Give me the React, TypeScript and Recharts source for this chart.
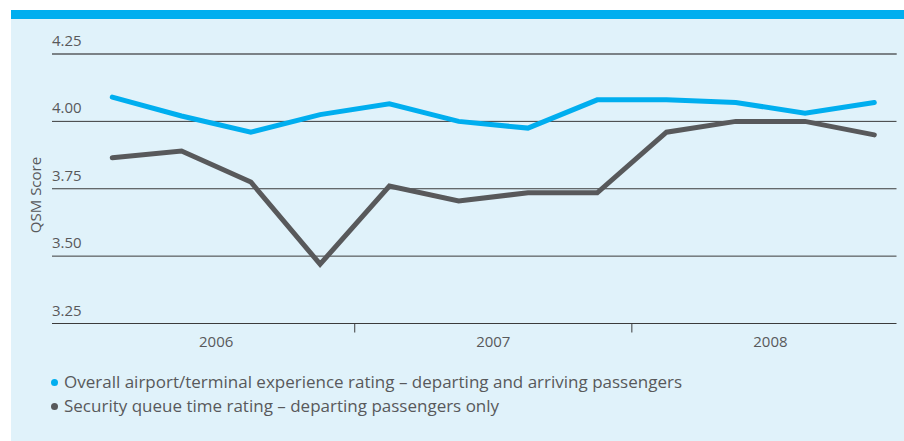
import { LineChart, Line, XAxis, YAxis, CartesianGrid, ReferenceLine } from 'recharts'

const quarters = [
  '2006 Q1', '2006 Q2', '2006 Q3', '2006 Q4',
  '2007 Q1', '2007 Q2', '2007 Q3', '2007 Q4',
  '2008 Q1', '2008 Q2', '2008 Q3', '2008 Q4',
]
const overall = [4.09, 4.02, 3.96, 4.025, 4.065, 4.0, 3.975, 4.08, 4.08, 4.07, 4.03, 4.07]
const security = [3.865, 3.89, 3.775, 3.47, 3.76, 3.705, 3.735, 3.735, 3.96, 4.0, 4.0, 3.95]
const yTicks = [3.25, 3.5, 3.75, 4.0, 4.25]
const years = ['2006', '2007', '2008']

const series = [
  { key: 'overall', name: 'Overall airport/terminal experience rating – departing and arriving passengers', color: '#00aeef' },
  { key: 'security', name: 'Security queue time rating – departing passengers only', color: '#58595b' },
]

const data = quarters.map((q, i) => ({ i, q, overall: overall[i], security: security[i] }))

// label in the middle of each year, small tick between years
const yearMids = years.map((_, k) => k * 4 + 1.5)
const yearEdges = years.slice(1).map((_, k) => k * 4 + 3.5)
const xTicks = [...yearMids, ...yearEdges].sort((a, b) => a - b)

const FONT = '"Open Sans", sans-serif'
const TEXT = '#58595b'
const GRID = '#3b3b3b'

function YTick({ x, y, payload }: any) {
  return (
    <text x={x} y={y - 8} fill={TEXT} fontSize={15} fontFamily={FONT} textAnchor="start">
      {Number(payload.value).toFixed(2)}
    </text>
  )
}

function XTick({ x, y, payload }: any) {
  const k = yearMids.indexOf(payload.value)
  if (k >= 0) {
    return (
      <text x={x} y={y + 23} fill={TEXT} fontSize={15} fontFamily={FONT} textAnchor="middle">
        {years[k]}
      </text>
    )
  }
  return <line x1={x} x2={x} y1={y} y2={y + 9} stroke={GRID} strokeWidth={1} />
}

export default function App() {
  return (
    <div style={{ position: 'relative', width: 904, height: 441, background: '#fff', overflow: 'hidden', fontFamily: FONT }}>
      <style>{'body{margin:0}'}</style>
      <div style={{ position: 'absolute', left: 11, right: 0, top: 10, height: 9, background: '#00aeef' }} />
      <div style={{ position: 'absolute', left: 11, right: 0, top: 19, bottom: 0, background: '#e0f2fa' }} />

      <div
        style={{
          position: 'absolute', left: 35, top: 195, transform: 'translate(-50%, -50%) rotate(-90deg)',
          fontSize: 15, color: TEXT, whiteSpace: 'nowrap',
        }}
      >
        QSM Score
      </div>

      <div style={{ position: 'absolute', left: 0, top: 0 }}>
        <LineChart width={904} height={360} data={data} margin={{ top: 54, right: 7.5, bottom: 6.5, left: 0 }}>
          <CartesianGrid vertical={false} stroke={GRID} strokeWidth={1} />
          <ReferenceLine y={4.25} stroke="#7b8286" strokeWidth={2} />
          <XAxis
            type="number"
            dataKey="i"
            domain={[-0.87, 11.32]}
            ticks={xTicks}
            interval={0}
            height={30}
            axisLine={false}
            tickLine={false}
            tickSize={0}
            tickMargin={0}
            tick={XTick}
          />
          <YAxis
            domain={[3.25, 4.25]}
            ticks={yTicks}
            interval={0}
            width={52}
            axisLine={false}
            tickLine={false}
            tickSize={0}
            tickMargin={0}
            tick={YTick}
          />
          {series.map(s => (
            <Line
              key={s.key}
              dataKey={s.key}
              stroke={s.color}
              strokeWidth={5}
              strokeLinecap="round"
              dot={false}
              activeDot={false}
              isAnimationActive={false}
            />
          ))}
        </LineChart>
      </div>

      <div style={{ position: 'absolute', left: 51, top: 370, fontSize: 17, color: TEXT, lineHeight: '24px' }}>
        {series.map(s => (
          <div key={s.key} style={{ display: 'flex', alignItems: 'center', whiteSpace: 'nowrap' }}>
            <span style={{ width: 7, height: 7, borderRadius: '50%', background: s.color, marginRight: 6, display: 'inline-block' }} />
            {s.name}
          </div>
        ))}
      </div>
    </div>
  )
}
